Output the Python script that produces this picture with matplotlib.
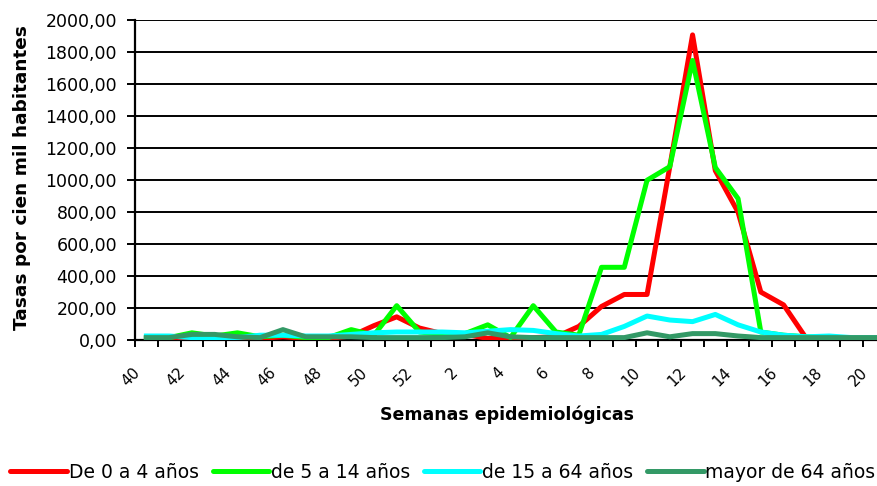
import matplotlib
matplotlib.use("Agg")
import matplotlib.pyplot as plt
import matplotlib.transforms as mtransforms
import numpy as np

# ---- data ----
weeks = [str(w) for w in list(range(40, 53)) + list(range(1, 21))]

de_0_a_4 = [10, 10, 15, 15, 10, 10, 20, 10, 10, 25, 90, 145, 75,
            40, 35, 10, 10, 15, 20, 85, 210, 285, 285, 1085, 1910, 1060,
            800, 300, 220, 10, 5, 5, 5]
de_5_a_14 = [15, 15, 45, 25, 45, 20, 30, 15, 15, 65, 30, 215, 50,
             35, 40, 95, 15, 215, 50, 30, 455, 455, 1000, 1085, 1750, 1080,
             885, 50, 30, 20, 15, 10, 10]
de_15_a_64 = [25, 25, 15, 10, 15, 30, 30, 25, 25, 35, 45, 50, 50,
              50, 45, 55, 65, 60, 40, 25, 35, 85, 150, 125, 115, 160,
              95, 50, 30, 20, 25, 15, 15]
mayor_64 = [15, 15, 35, 35, 20, 15, 65, 20, 20, 20, 15, 15, 15,
            15, 20, 45, 20, 15, 15, 15, 15, 15, 45, 20, 40, 40,
            25, 15, 15, 15, 15, 15, 15]

series_names = ["De 0 a 4 años", "de 5 a 14 años", "de 15 a 64 años", "mayor de 64 años"]
series_colors = ["#FF0000", "#00FF00", "#00FFFF", "#339966"]
y_ticks = list(range(0, 2001, 200))

plt.rcParams['font.family'] = ['DejaVu Sans']

W, H = 877, 486
fig = plt.figure(figsize=(W / 100, H / 100), dpi=100)
ax = fig.add_axes([135 / W, (H - 340) / H, (886 - 135) / W, (340 - 20.5) / H])

x = np.arange(len(weeks))
for vals, col, name in zip([de_0_a_4, de_5_a_14, de_15_a_64, mayor_64], series_colors, series_names):
    ax.plot(x, vals, color=col, lw=3.6, label=name, solid_joinstyle='round', zorder=3)

ax.set_xlim(-0.5, len(weeks) - 0.5)
ax.set_ylim(0, 2000)

ax.set_yticks(y_ticks)
ax.set_yticklabels([f"{v:.2f}".replace('.', ',') for v in y_ticks], fontsize=12.5)
ax.yaxis.grid(True, color='black', lw=1.4)
ax.set_axisbelow(True)
ax.tick_params(axis='y', direction='out', length=6, width=1.4, pad=7, colors='black')

for s in ['top', 'right']:
    ax.spines[s].set_visible(False)
for s in ['left', 'bottom']:
    ax.spines[s].set_linewidth(1.6)
    ax.spines[s].set_color('black')

# x ticks at category boundaries
ax.set_xticks(np.arange(-0.5, len(weeks), 1))
ax.set_xticklabels([])
ax.tick_params(axis='x', direction='out', length=5, width=1.4)

base = mtransforms.blended_transform_factory(ax.transData, ax.transAxes)
lab_tr = mtransforms.offset_copy(base, fig=fig, x=-3, y=-25, units='dots')
for i, w in enumerate(weeks):
    if int(w) % 2 == 0:
        ax.text(i - 0.5, 0, w, transform=lab_tr, rotation=45, ha='right', va='top',
                rotation_mode='anchor', fontsize=11, clip_on=False)

fig.text(22 / W, 1 - 178 / H, "Tasas por cien mil habitantes", rotation=90,
         ha='center', va='center', fontsize=13.3, fontweight='bold')
fig.text(507 / W, 1 - 415 / H, "Semanas epidemiológicas", ha='center', va='center',
         fontsize=12.5, fontweight='bold')

leg = fig.legend(loc='center', bbox_to_anchor=(443 / W, 1 - 472 / H), ncol=4, frameon=False,
                 fontsize=13.5, handlelength=3.0, handletextpad=0.1, columnspacing=0.75,
                 borderpad=0, borderaxespad=0)
for h in leg.get_lines():
    h.set_linewidth(3.6)
    h.set_solid_capstyle('round')

fig.savefig("out.png", dpi=100)
